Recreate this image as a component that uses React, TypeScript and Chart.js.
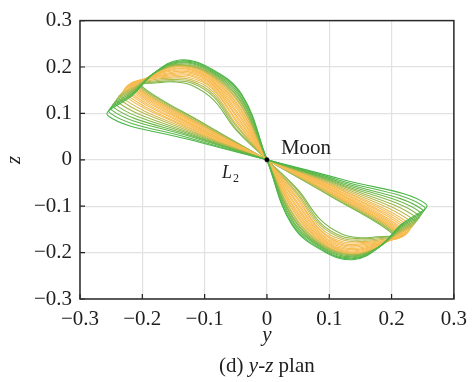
import { useEffect, useRef } from 'react';
import { Chart, registerables } from 'chart.js';

Chart.register(...registerables);

// Axis ticks (same for y and z)
const tickValues = [-0.3, -0.2, -0.1, 0, 0.1, 0.2, 0.3];
const tickLabels = ['−0.3', '−0.2', '−0.1', '0', '0.1', '0.2', '0.3'];

// Characteristic points of the upper-left wing of each orbit (y, z), outermost orbit first.
// The lower-right wing is its point reflection through the Moon.
const steepY = [-0.04, -0.04, -0.041, -0.041, -0.042, -0.042, -0.043, -0.043, -0.044, -0.044, -0.045, -0.045, -0.046, -0.046, -0.047, -0.047, -0.048, -0.048, -0.049, -0.049, -0.05, -0.05];
const steepZ = [0.14, 0.137, 0.134, 0.13, 0.127, 0.124, 0.121, 0.118, 0.114, 0.111, 0.108, 0.104, 0.1, 0.096, 0.092, 0.088, 0.084, 0.08, 0.076, 0.072, 0.068, 0.065];
const riseY = [-0.092, -0.092, -0.091, -0.091, -0.091, -0.09, -0.09, -0.09, -0.09, -0.089, -0.089, -0.089, -0.088, -0.088, -0.088, -0.087, -0.087, -0.086, -0.086, -0.086, -0.085, -0.085];
const riseZ = [0.198, 0.196, 0.193, 0.191, 0.189, 0.186, 0.184, 0.182, 0.18, 0.177, 0.175, 0.172, 0.169, 0.166, 0.163, 0.159, 0.155, 0.151, 0.146, 0.141, 0.135, 0.128];
const peakY = [-0.14, -0.139, -0.138, -0.137, -0.136, -0.135, -0.134, -0.133, -0.132, -0.131, -0.13, -0.129, -0.128, -0.127, -0.126, -0.125, -0.124, -0.123, -0.122, -0.121, -0.12, -0.12];
const peakZ = [0.215, 0.213, 0.211, 0.209, 0.207, 0.205, 0.204, 0.203, 0.201, 0.2, 0.198, 0.196, 0.193, 0.19, 0.187, 0.184, 0.181, 0.177, 0.173, 0.169, 0.165, 0.16];
const shoulderY = [-0.18, -0.179, -0.178, -0.177, -0.176, -0.175, -0.174, -0.173, -0.171, -0.17, -0.168, -0.167, -0.165, -0.164, -0.162, -0.161, -0.159, -0.158, -0.156, -0.154, -0.152, -0.15];
const shoulderZ = [0.188, 0.189, 0.19, 0.19, 0.191, 0.191, 0.192, 0.192, 0.192, 0.191, 0.19, 0.189, 0.188, 0.186, 0.184, 0.182, 0.18, 0.178, 0.176, 0.173, 0.17, 0.168];
const kneeY = [-0.215, -0.214, -0.213, -0.212, -0.211, -0.21, -0.209, -0.207, -0.205, -0.203, -0.2, -0.198, -0.196, -0.194, -0.192, -0.19, -0.188, -0.186, -0.184, -0.181, -0.178, -0.175];
const kneeZ = [0.14, 0.143, 0.146, 0.149, 0.152, 0.155, 0.158, 0.161, 0.164, 0.168, 0.171, 0.173, 0.174, 0.175, 0.176, 0.176, 0.175, 0.174, 0.172, 0.17, 0.168, 0.166];
const tipY = [-0.255, -0.252, -0.249, -0.246, -0.243, -0.24, -0.237, -0.234, -0.231, -0.229, -0.227, -0.225, -0.223, -0.221, -0.219, -0.217, -0.215, -0.213, -0.211, -0.208, -0.205, -0.202];
const tipZ = [0.095, 0.101, 0.107, 0.113, 0.119, 0.125, 0.131, 0.136, 0.141, 0.145, 0.149, 0.152, 0.155, 0.157, 0.159, 0.16, 0.161, 0.161, 0.161, 0.161, 0.16, 0.16];
const lowerY = [-0.12, -0.119, -0.118, -0.117, -0.116, -0.115, -0.114, -0.113, -0.112, -0.111, -0.11, -0.109, -0.108, -0.107, -0.106, -0.105, -0.104, -0.103, -0.102, -0.101, -0.1, -0.1];
const lowerZ = [0.042, 0.045, 0.048, 0.05, 0.052, 0.054, 0.056, 0.058, 0.06, 0.061, 0.063, 0.064, 0.066, 0.067, 0.068, 0.07, 0.071, 0.072, 0.073, 0.074, 0.076, 0.077];

const moon = [{ x: 0, y: 0 }];

// plot frame in canvas pixels
const FRAME = { left: 80, top: 15, right: 458, bottom: 299 };

const GREEN = [76, 182, 72];
const ORANGE = [247, 187, 80];

function mix(a: number[], b: number[], t: number) {
  const c = a.map((v, i) => Math.round(v + (b[i] - v) * t));
  return `rgb(${c[0]},${c[1]},${c[2]})`;
}

// green on the outer orbits, orange through the middle of the family,
// turning back towards green on the innermost ones
function orbitColor(k: number, n: number) {
  const t = k / (n - 1);
  if (t < 0.15) return mix(GREEN, ORANGE, (t / 0.15) * 0.2);
  if (t < 0.4) return mix(GREEN, ORANGE, 0.2 + ((t - 0.15) / 0.25) * 0.8);
  if (t < 0.8) return mix(GREEN, ORANGE, 1);
  return mix(ORANGE, GREEN, ((t - 0.8) / 0.2) * 0.75);
}

function orbitPoints(k: number) {
  const wing: [number, number][] = [
    [steepY[k], steepZ[k]],
    [riseY[k], riseZ[k]],
    [peakY[k], peakZ[k]],
    [shoulderY[k], shoulderZ[k]],
    [kneeY[k], kneeZ[k]],
    [tipY[k], tipZ[k]],
    [lowerY[k], lowerZ[k]],
  ];
  const pts = [{ x: 0, y: 0 }];
  wing.forEach(([y, z]) => pts.push({ x: y, y: z }));
  pts.push({ x: 0, y: 0 });
  [...wing].reverse().forEach(([y, z]) => pts.push({ x: -y, y: -z }));
  pts.push({ x: 0, y: 0 });
  return pts;
}

const SERIF = '"Liberation Serif", "Times New Roman", serif';
const INK = '#1e1e1e';

const decorations = {
  id: 'decorations',
  afterDraw(chart: any) {
    const { ctx, chartArea: a, scales } = chart;
    const xs = scales.x;
    const ys = scales.y;
    ctx.save();

    // inward tick marks on the bottom and left axes
    ctx.strokeStyle = INK;
    ctx.lineWidth = 1.2;
    ctx.beginPath();
    tickValues.forEach((v) => {
      const px = xs.getPixelForValue(v);
      ctx.moveTo(px, a.bottom);
      ctx.lineTo(px, a.bottom - 5);
      const py = ys.getPixelForValue(v);
      ctx.moveTo(a.left, py);
      ctx.lineTo(a.left + 5, py);
    });
    ctx.stroke();

    // frame
    ctx.lineWidth = 1.5;
    ctx.strokeStyle = '#2a2a2a';
    ctx.strokeRect(a.left, a.top, a.right - a.left, a.bottom - a.top);

    const ox = xs.getPixelForValue(0);
    const oy = ys.getPixelForValue(0);
    ctx.fillStyle = INK;
    ctx.textBaseline = 'alphabetic';

    ctx.textAlign = 'left';
    ctx.font = `21px ${SERIF}`;
    ctx.fillText('Moon', ox + 14, oy - 6);
    ctx.font = `italic 18px ${SERIF}`;
    ctx.fillText('L', ox - 45, oy + 18);
    ctx.font = `12px ${SERIF}`;
    ctx.fillText('2', ox - 34, oy + 22);

    // axis titles
    const cx = (a.left + a.right) / 2;
    ctx.textAlign = 'center';
    ctx.font = `italic 21px ${SERIF}`;
    ctx.fillText('y', cx, 341);
    ctx.save();
    ctx.translate(20, (a.top + a.bottom) / 2);
    ctx.rotate(-Math.PI / 2);
    ctx.fillText('z', 0, 0);
    ctx.restore();

    // caption
    const parts: [string, string][] = [
      ['(d) ', `21px ${SERIF}`],
      ['y-z', `italic 21px ${SERIF}`],
      [' plan', `21px ${SERIF}`],
    ];
    let total = 0;
    parts.forEach(([s, f]) => {
      ctx.font = f;
      total += ctx.measureText(s).width;
    });
    let x0 = cx - total / 2;
    ctx.textAlign = 'left';
    parts.forEach(([s, f]) => {
      ctx.font = f;
      ctx.fillText(s, x0, 372);
      x0 += ctx.measureText(s).width;
    });
    ctx.restore();
  },
};

export default function App() {
  const ref = useRef<HTMLCanvasElement>(null);

  useEffect(() => {
    document.body.style.margin = '0';
    const n = tipY.length;
    const orbits = Array.from({ length: n }, (_, k) => ({
      data: orbitPoints(k),
      showLine: true,
      borderColor: orbitColor(k, n),
      borderWidth: 1.1,
      pointRadius: 0,
      tension: 0.4,
      fill: false,
    }));
    const moonSet = {
      data: moon,
      showLine: false,
      pointRadius: 2.2,
      pointBackgroundColor: '#000',
      pointBorderColor: '#000',
      pointBorderWidth: 0.5,
    };

    const axis = (isX: boolean) => ({
      type: 'linear' as const,
      min: -0.3,
      max: 0.3,
      afterBuildTicks: (s: any) => {
        s.ticks = tickValues.map((v) => ({ value: v }));
      },
      afterFit: (s: any) => {
        if (isX) s.height = 382 - FRAME.bottom;
        else s.width = FRAME.left;
      },
      grid: { color: '#e2e2e2', lineWidth: 1.2, drawTicks: false },
      border: { display: false },
      ticks: {
        color: INK,
        padding: 8,
        font: { family: SERIF, size: 21 },
        maxRotation: 0,
        callback: (_v: any, i: number) => tickLabels[i],
      },
    });

    const padding = { top: FRAME.top, right: 475 - FRAME.right, left: 0, bottom: 0 };
    const chart = new Chart(ref.current!, {
      type: 'scatter',
      data: { datasets: [moonSet as any, ...orbits] },
      options: {
        responsive: false,
        animation: false,
        devicePixelRatio: 1,
        layout: { padding },
        plugins: { legend: { display: false }, tooltip: { enabled: false } },
        scales: { x: axis(true), y: axis(false) },
      },
      plugins: [decorations],
    });

    // pin the plot frame to its intended place
    const ca = chart.chartArea;
    padding.top += FRAME.top - ca.top;
    padding.right += ca.right - FRAME.right;
    chart.options.layout!.padding = { ...padding };
    chart.update();

    return () => chart.destroy();
  }, []);

  return <canvas ref={ref} width={475} height={382} style={{ display: 'block' }} />;
}
